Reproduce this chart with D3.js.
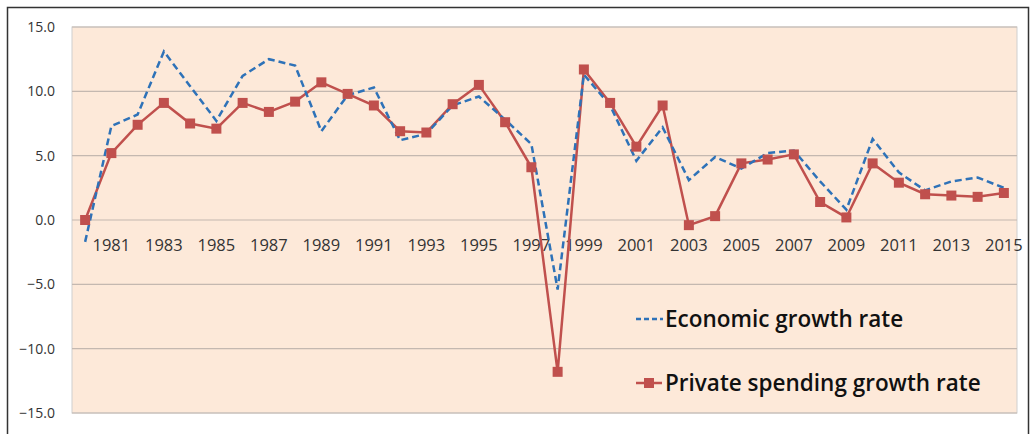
<!DOCTYPE html>
<html><head><meta charset="utf-8">
<script src="https://cdn.jsdelivr.net/npm/d3@7"></script>
<style>body{margin:0;background:#fff;}svg{display:block;}</style>
</head><body>
<script>
const years = d3.range(1980, 2016);
const economic = [-1.7,7.3,8.2,13.1,10.4,7.7,11.2,12.5,12.0,6.9,9.7,10.3,6.2,6.7,8.9,9.6,7.8,5.9,-5.4,11.3,8.9,4.6,7.2,3.1,4.9,4.0,5.2,5.4,3.0,0.8,6.3,3.7,2.3,3.0,3.3,2.5];
const privateSpending = [0.0,5.2,7.4,9.1,7.5,7.1,9.1,8.4,9.2,10.7,9.8,8.9,6.9,6.8,9.0,10.5,7.6,4.1,-11.8,11.7,9.1,5.7,8.9,-0.4,0.3,4.4,4.7,5.1,1.4,0.2,4.4,2.9,2.0,1.9,1.8,2.1];
const yTicks = [-15,-10,-5,0,5,10,15];
const xTickYears = d3.range(1981, 2016, 2);
const seriesNames = ["Economic growth rate","Private spending growth rate"];

const W=1034,H=434;
const svg=d3.select("body").append("svg").attr("width",W).attr("height",H);
svg.append("rect").attr("x",7.5).attr("y",7.5).attr("width",1021).attr("height",440).attr("fill","#fff").attr("stroke","#333").attr("stroke-width",1.5);

const L=72,R=1017,T=27,B=413;
const x=d3.scaleBand().domain(years).range([L,R]);
const y=d3.scaleLinear().domain([-15,15]).range([B,T]);
const cx=d=>x(d)+x.bandwidth()/2;

svg.append("rect").attr("x",L).attr("y",T).attr("width",R-L).attr("height",B-T).attr("fill","#fde9d9").attr("stroke","#cfcfcf");

// gridlines
svg.append("g").selectAll("line").data(yTicks).join("line")
 .attr("x1",L).attr("x2",R).attr("y1",d=>y(d)).attr("y2",d=>y(d))
 .attr("stroke","#c4b8b0").attr("stroke-width",1.2);

// y axis labels
const yAxis=d3.axisLeft(y).tickValues(yTicks).tickFormat(d3.format(".1f")).tickSize(0).tickPadding(17);
const gy=svg.append("g").attr("transform",`translate(${L},0)`).call(yAxis);
gy.select(".domain").remove();
gy.selectAll("text").attr("font-family","'Open Sans',sans-serif").attr("font-size",14).attr("fill","#333");

// x axis at zero
const xAxis=d3.axisBottom(x).tickValues(xTickYears).tickSize(0).tickPadding(19);
const gx=svg.append("g").attr("transform",`translate(0,${y(0)})`).call(xAxis);
gx.select(".domain").remove();
gx.selectAll("text").attr("font-family","'Open Sans',sans-serif").attr("font-size",16.5).attr("fill","#333");

const blue="#2e72b8", red="#c0504d";
const line=d3.line().x((d,i)=>cx(years[i])).y(d=>y(d));

svg.append("path").datum(privateSpending).attr("d",line).attr("fill","none").attr("stroke",red).attr("stroke-width",2.5);
svg.append("path").datum(economic).attr("d",line).attr("fill","none").attr("stroke",blue).attr("stroke-width",2.5).attr("stroke-dasharray","7,4");
svg.append("g").selectAll("rect").data(privateSpending).join("rect")
 .attr("x",(d,i)=>cx(years[i])-5).attr("y",d=>y(d)-5).attr("width",10).attr("height",10).attr("fill",red);

// legend
const lg=svg.append("g");
lg.append("line").attr("x1",636).attr("x2",663).attr("y1",319).attr("y2",319).attr("stroke",blue).attr("stroke-width",2.5).attr("stroke-dasharray","5,3");
lg.append("text").attr("x",665).attr("y",327).text(seriesNames[0]);
lg.append("line").attr("x1",636).attr("x2",662).attr("y1",383).attr("y2",383).attr("stroke",red).attr("stroke-width",2.5);
lg.append("rect").attr("x",644).attr("y",378).attr("width",10).attr("height",10).attr("fill",red);
lg.append("text").attr("x",665).attr("y",391).text(seriesNames[1]);
lg.selectAll("text").attr("font-family","'Open Sans',sans-serif").attr("font-size",22.5).attr("font-weight",600).attr("fill","#111");
</script>
</body></html>
